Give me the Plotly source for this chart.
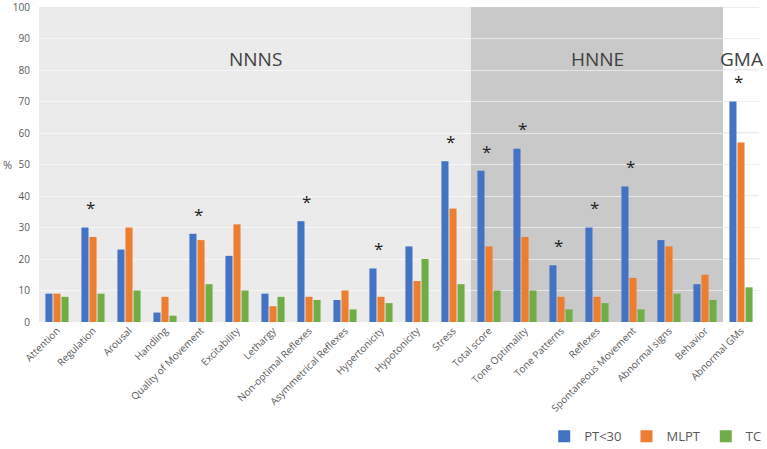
import plotly.graph_objects as go

categories = ["Attention", "Regulation", "Arousal", "Handling", "Quality of Movement",
              "Excitability", "Lethargy", "Non-optimal Reflexes", "Asymmetrical Reflexes",
              "Hypertonicity", "Hypotonicity", "Stress", "Total score", "Tone Optimality",
              "Tone Patterns", "Reflexes", "Spontaneous Movement", "Abnormal signs",
              "Behavior", "Abnormal GMs"]
pt30 = [9, 30, 23, 3, 28, 21, 9, 32, 7, 17, 24, 51, 48, 55, 18, 30, 43, 26, 12, 70]
mlpt = [9, 27, 30, 8, 26, 31, 5, 8, 10, 8, 13, 36, 24, 27, 8, 8, 14, 24, 15, 57]
tc = [8, 9, 10, 2, 12, 10, 8, 7, 4, 6, 20, 12, 10, 10, 4, 6, 4, 9, 7, 11]
significant = ["Regulation", "Quality of Movement", "Non-optimal Reflexes", "Hypertonicity",
               "Stress", "Total score", "Tone Optimality", "Tone Patterns", "Reflexes",
               "Spontaneous Movement", "Abnormal GMs"]
sections = ["NNNS", "HNNE", "GMA"]
section_sizes = [12, 7, 1]
y_ticks = list(range(0, 101, 10))

BLUE = "#4472c4"
ORANGE = "#ed7d31"
GREEN = "#70ad47"
TXT = "#595959"

fig = go.Figure()
for name, vals, col in [("PT<30", pt30, BLUE), ("MLPT", mlpt, ORANGE), ("TC", tc, GREEN)]:
    fig.add_trace(go.Bar(x=categories, y=vals, name=name, marker_color=col,
                         marker_line_width=0))

# section backgrounds
bg_colors = ["#ebebeb", "#c9c9c9", "#ffffff"]
start = -0.5
shapes = []
annotations = []
for sec, size, bgc in zip(sections, section_sizes, bg_colors):
    end = start + size
    shapes.append(dict(type="rect", xref="x", yref="paper", x0=start, x1=end, y0=0, y1=1,
                       fillcolor=bgc, line_width=0, layer="below"))
    annotations.append(dict(x=(start + end) / 2, y=83.5, xref="x", yref="y", text=sec,
                            showarrow=False, font=dict(size=19, color="#404040")))
    if bgc == "#ffffff":
        for t in y_ticks[1:]:
            shapes.append(dict(type="line", xref="x", yref="y", x0=start, x1=end,
                               y0=t, y1=t, line=dict(color="#d9d9d9", width=1),
                               layer="below"))
    start = end

for c in significant:
    i = categories.index(c)
    annotations.append(dict(x=c, y=pt30[i] + 2.0, xref="x", yref="y", text="*",
                            showarrow=False, xshift=-3, yanchor="bottom",
                            font=dict(size=17, color="#222222")))

annotations.append(dict(x=0, xref="paper", xshift=-38, xanchor="left", y=50, yref="y",
                        text="%", showarrow=False, font=dict(size=11, color=TXT)))

fig.update_layout(
    width=767, height=449,
    margin=dict(l=39, r=8, t=7, b=127, autoexpand=False),
    paper_bgcolor="white", plot_bgcolor="white",
    barmode="group", bargap=0.33, bargroupgap=0.12,
    font=dict(family="Open Sans, Arial, sans-serif", color=TXT, size=10),
    shapes=shapes, annotations=annotations,
    legend=dict(orientation="h", x=1.01, xanchor="right", y=-0.363, yanchor="middle",
                font=dict(size=13, color=TXT), itemwidth=30, traceorder="normal",
                bgcolor="rgba(0,0,0,0)"),
    xaxis=dict(tickangle=-45, tickfont=dict(size=10, color=TXT), showgrid=False,
               showline=False, ticks="", range=[-0.5, 19.5]),
    yaxis=dict(range=[0, 100], tickvals=y_ticks, tickfont=dict(size=10, color=TXT),
               showgrid=True, gridcolor="rgba(255,255,255,0.55)", gridwidth=1,
               zeroline=False, showline=False, ticks="", ticklabelstandoff=8,
               ticklabeloverflow="allow"),
)

fig.write_html("out.html", config={"displayModeBar": False},
               post_script="document.body.style.margin='0';")
